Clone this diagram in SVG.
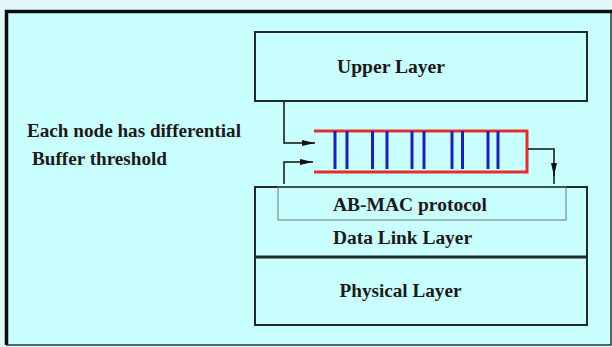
<svg xmlns="http://www.w3.org/2000/svg" width="612" height="347" viewBox="0 0 612 347">
<defs>
<style>
.lbl{font-family:"Liberation Serif","Times New Roman",serif;font-weight:bold;font-size:18px;fill:#1a1a1a}
.box{fill:none;stroke:#1e2b2b;stroke-width:2}
.con{fill:none;stroke:#111;stroke-width:1.5}
.red{stroke:#e0302c;stroke-width:3;fill:none}
.blue{stroke:#1a22b0;stroke-width:3}
</style>
<marker id="ah" markerWidth="14" markerHeight="8" refX="13" refY="4" orient="auto" markerUnits="userSpaceOnUse">
<path d="M0,1 L13,4 L0,7 Z" fill="#111"/>
</marker>
</defs>
<rect x="0" y="0" width="612" height="347" fill="#e2f8f8"/>
<rect x="6" y="11" width="605" height="334" fill="#caffff"/>
<path d="M6.5,345 V11.5 H612" fill="none" stroke="#0d0d0d" stroke-width="3.5"/>
<path d="M611,12 V345 H6" fill="none" stroke="#2a3535" stroke-width="1.5"/>

<g id="upper-layer">
<rect class="box" x="255" y="32" width="332" height="69"/>
<text class="lbl" x="391" y="73" text-anchor="middle" textLength="108" lengthAdjust="spacingAndGlyphs">Upper Layer</text>
</g>

<g id="note">
<text class="lbl" x="27" y="137" textLength="214" lengthAdjust="spacingAndGlyphs">Each node has differential</text>
<text class="lbl" x="32" y="165" textLength="135" lengthAdjust="spacingAndGlyphs">Buffer threshold</text>
</g>

<g id="buffer-queue">
<line class="red" x1="314" y1="131" x2="526" y2="131"/>
<line class="red" x1="314" y1="172" x2="526" y2="172"/>
<line class="red" x1="527" y1="129.5" x2="527" y2="173.5"/>
<g class="blue">
<line x1="335" y1="131" x2="335" y2="169"/>
<line x1="347" y1="131" x2="347" y2="169"/>
<line x1="372.5" y1="131" x2="372.5" y2="169"/>
<line x1="387" y1="131" x2="387" y2="169"/>
<line x1="412" y1="131" x2="412" y2="169"/>
<line x1="424" y1="131" x2="424" y2="169"/>
<line x1="452" y1="131" x2="452" y2="169"/>
<line x1="462.5" y1="131" x2="462.5" y2="169"/>
<line x1="488" y1="131" x2="488" y2="169"/>
<line x1="498" y1="131" x2="498" y2="169"/>
</g>
</g>

<g id="data-link-layer">
<rect class="box" x="255" y="187" width="332" height="70"/>
<text class="lbl" x="402.5" y="244" text-anchor="middle" textLength="139" lengthAdjust="spacingAndGlyphs">Data Link Layer</text>
</g>

<g id="ab-mac">
<rect x="278" y="187" width="288" height="33" fill="none" stroke="#6a7474" stroke-width="1"/>
<text class="lbl" x="410" y="211" text-anchor="middle" textLength="154" lengthAdjust="spacingAndGlyphs">AB-MAC protocol</text>
</g>

<g id="physical-layer">
<rect class="box" x="255" y="257" width="332" height="68"/>
<line x1="255" y1="257" x2="587" y2="257" stroke="#1e2b2b" stroke-width="3"/>
<text class="lbl" x="400.5" y="297" text-anchor="middle" textLength="122" lengthAdjust="spacingAndGlyphs">Physical Layer</text>
</g>

<g id="connectors">
<path class="con" d="M284,102 V143 H315" marker-end="url(#ah)"/>
<path class="con" d="M284,184 V162 H313" marker-end="url(#ah)"/>
<path class="con" d="M528,149 H554 V176" marker-end="url(#ah)"/>
<path class="con" d="M554,174 V184"/>
</g>
</svg>
